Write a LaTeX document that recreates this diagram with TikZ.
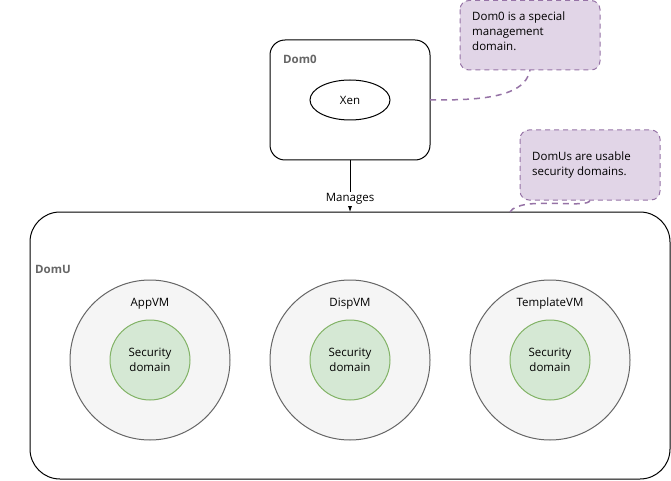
\documentclass[tikz,border=0pt]{standalone}
\usepackage{fontspec}
\setmainfont{Open Sans}
\usetikzlibrary{shapes.geometric,arrows.meta}
\definecolor{notefill}{HTML}{E1D5E7}
\definecolor{notedraw}{HTML}{9673A6}
\definecolor{vmfill}{HTML}{F5F5F5}
\definecolor{vmdraw}{HTML}{666666}
\definecolor{secfill}{HTML}{D5E8D4}
\definecolor{secdraw}{HTML}{82B366}
\tikzset{
  every node/.style={font=\fontsize{11.5}{15}\selectfont, inner sep=0pt},
  box/.style={draw=black, line width=1pt, fill=white},
  notebox/.style={draw=notedraw, fill=notefill, dashed, dash pattern=on 5pt off 4pt, line width=1pt, rounded corners=9pt},
  notelink/.style={draw=notedraw, line width=1.5pt, dash pattern=on 6pt off 5pt},
  vm/.style={circle, draw=vmdraw, fill=vmfill, line width=1pt, minimum size=160pt},
  sec/.style={circle, draw=secdraw, fill=secfill, line width=1pt, minimum size=80pt, align=center},
  title/.style={font=\fontsize{11.5}{15}\selectfont\bfseries, text=vmdraw, anchor=west},
  notetext/.style={align=left, anchor=north west}
}
\begin{document}
\begin{tikzpicture}[x=1pt,y=-1pt]
\useasboundingbox (0,0) rectangle (671,481);
% Dom0
\draw[box, rounded corners=15pt] (270,40) rectangle (430,160);
\coordinate (dom0bottom) at (350,160);
\coordinate (dom0right) at (430,100);
\node[title] (dom0lbl) at (283,59) {Dom0};
\node[ellipse, draw, line width=1pt, minimum width=80pt, minimum height=40pt] (xen) at (350,100) {Xen};
% DomU
\draw[box, rounded corners=30pt] (30,212) rectangle (670,479);
\coordinate (domutop) at (350,212);
\coordinate (domunote) at (510,212);
\node[title] (domulbl) at (35,269) {DomU};
% arrow
\draw[line width=1pt, -{Latex[length=8pt,width=6pt]}] (dom0bottom) -- node[pos=0.75, fill=white, inner sep=2pt] (manages) {Manages} (domutop);
% VMs
\foreach \n/\x/\t in {app/150/AppVM, disp/350/DispVM, tmpl/550/TemplateVM}{
  \node[vm] (\n) at (\x,360) {};
  \node (\n lbl) at (\x,304) {\t};
  \node[sec] (\n sec) at (\x,360) {Security\\domain};
}
% notes
\draw[notebox] (460,0.5) rectangle (600,70);
\node[notetext] (note1) at (472,12) {Dom0 is a special\\management\\domain.};
\coordinate (note1b) at (530,70);
\draw[notebox] (520,130) rectangle (660,200);
\node[notetext] (note2) at (532,152) {DomUs are usable\\security domains.};
\coordinate (note2b) at (590,200);
% links
\draw[notelink] (dom0right) .. controls (470,100) and (525,100) .. (note1b);
\draw[notelink] (domunote) .. controls (520,195) and (590,210) .. (note2b);
\end{tikzpicture}
\end{document}
